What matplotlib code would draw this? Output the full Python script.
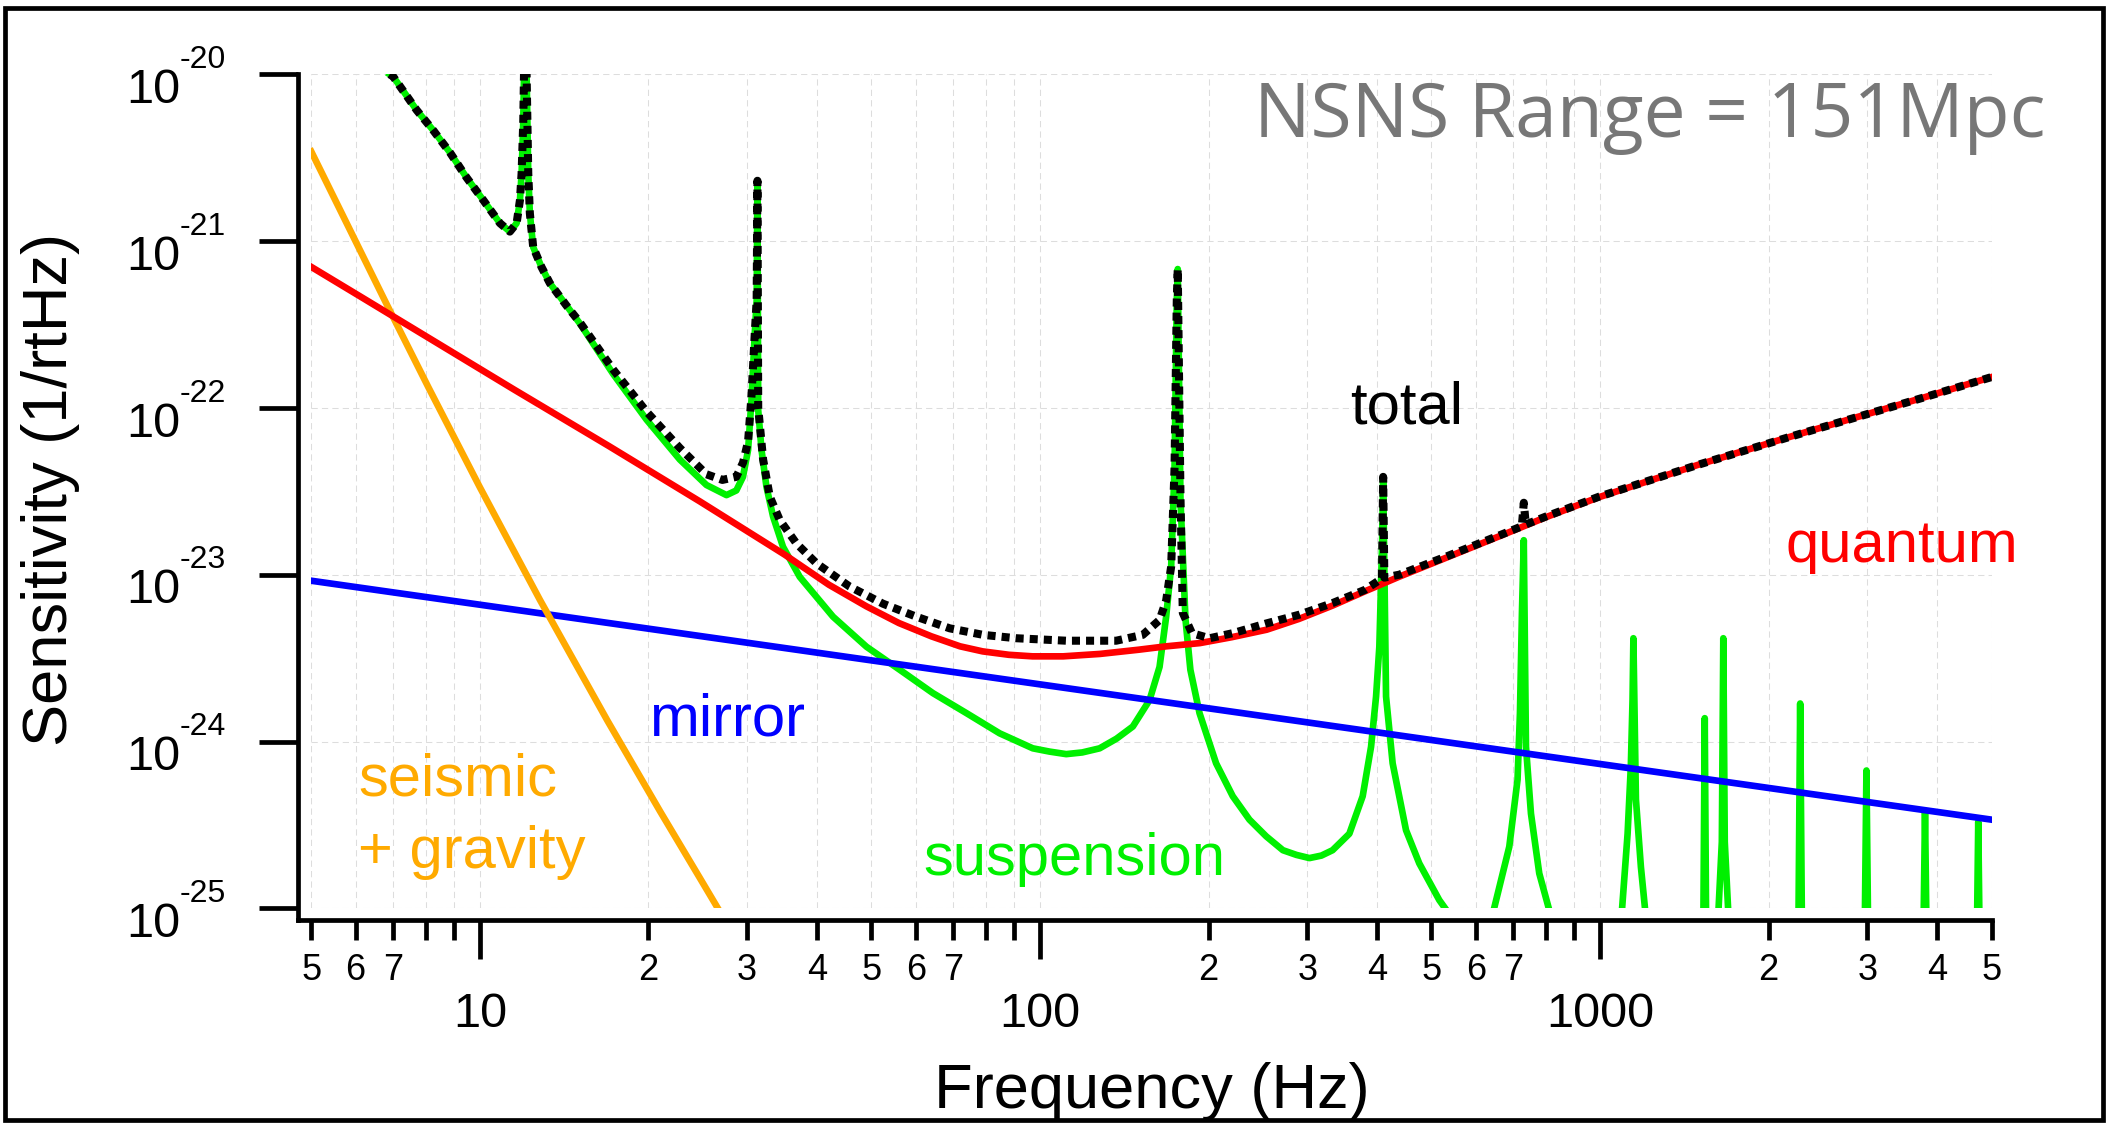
import numpy as np
import matplotlib
matplotlib.use("Agg")
import matplotlib.pyplot as plt
from matplotlib import transforms
from matplotlib.ticker import FixedLocator, FixedFormatter, NullLocator, NullFormatter
from matplotlib.patches import Rectangle

plt.rcParams["font.family"] = ["Liberation Sans", "DejaVu Sans"]

nan = np.nan

# noise curves (frequency in Hz, strain in 1/rtHz)
seismic_f = [5, 6.8, 8.1, 10, 12.8, 16.9, 21.0, 24.7, 26.6]
seismic_v = [3.44e-21, 4.25e-22, 1.32e-22, 3.34e-23, 7.06e-24, 1.33e-24,
             3.79e-25, 1.52e-25, 1.0e-25]

mirror_f = [5, 5000]
mirror_v = [9.2e-24, 3.4e-25]

quantum_f = [5, 6.1, 11.5, 17, 24.7, 35, 42, 49, 56, 64, 72, 79, 88, 97, 110,
             128, 150, 168, 193, 220, 254, 290, 333, 380, 438, 530, 661, 800,
             997, 1500, 2200, 3770, 5000]
quantum_v = [7.0e-22, 4.68e-22, 1.29e-22, 5.9e-23, 2.75e-23, 1.32e-23, 8.7e-24,
             6.46e-24, 5.13e-24, 4.27e-24, 3.72e-24, 3.47e-24, 3.31e-24, 3.24e-24,
             3.24e-24, 3.35e-24, 3.55e-24, 3.72e-24, 3.89e-24, 4.22e-24, 4.68e-24,
             5.43e-24, 6.53e-24, 7.94e-24, 9.73e-24, 1.26e-23, 1.70e-23, 2.21e-23,
             2.92e-23, 4.57e-23, 6.76e-23, 1.15e-22, 1.53e-22]

susp_f = [6.9, 7.0, 7.71, 8.26, 8.84, 9.47, 10.14, 10.86, 11.31, 11.63, 11.79,
          11.87, 11.95, 12.05, 12.2, 12.28, 12.45, 12.88, 13.33, 14.28, 15.09,
          17.29, 19.84, 22.75, 25.38, 27.56, 28.7, 29.49, 30.12, 30.54, 30.96,
          31.2, 31.3, 31.4, 31.83, 32.48, 33.38, 34.77, 37.25, 42.71, 49.0, 56.2,
          64.4, 73.9, 84.7, 97.1, 104, 111.4, 119, 127.8, 137, 146.5, 156.9,
          163.5, 168.0, 171.5, 173.9, 175.5, 176.2, 178.2, 181.9, 185.6, 192.7,
          206.3, 220.9, 236.6, 253.5, 271.5, 287, 302.8, 318, 333, 356.8, 376.9,
          390.1, 398.2, 403.6, 408.1, 410, 414.9, 426.3, 450.4, 475.6, 516.4,
          529, nan,
          647, 688.6, 712.4, 719.5, 725.4, 730.9, 737.5, 752.8, 778.9, 810, nan,
          1095, 1120, 1135, 1143, 1147, 1159, 1183, 1203, nan,
          1530, 1538, 1546, nan,
          1628, 1650, 1660, 1670, 1693, nan,
          2262, 2277, 2292, nan,
          2972, 2990, 3008, nan,
          3785, 3804, 3823, nan,
          4715, 4735, 4755]
susp_v = [1.0e-20, 9.7e-21, 6.1e-21, 4.6e-21, 3.4e-21, 2.4e-21, 1.76e-21, 1.28e-21,
          1.14e-21, 1.28e-21, 1.76e-21, 2.55e-21, 5.1e-21, 3e-20, 2.55e-21,
          1.47e-21, 9.2e-22, 7.0e-22, 5.6e-22, 4.1e-22, 3.2e-22, 1.6e-22, 8.5e-23,
          4.9e-23, 3.45e-23, 3.0e-23, 3.2e-23, 3.86e-23, 5.6e-23, 1.11e-22,
          2.8e-22, 4.4e-22, 2.3e-21, 9.7e-23, 5.6e-23, 3.37e-23, 2.23e-23,
          1.47e-23, 9.7e-24, 5.6e-24, 3.7e-24, 2.69e-24, 1.95e-24, 1.48e-24,
          1.12e-24, 9.1e-25, 8.7e-25, 8.4e-25, 8.6e-25, 9.1e-25, 1.04e-24,
          1.23e-24, 1.77e-24, 2.8e-24, 5.6e-24, 1.12e-23, 4.4e-23, 4.4e-22,
          6.8e-22, 2.8e-23, 5.4e-24, 2.69e-24, 1.48e-24, 7.4e-25, 4.7e-25,
          3.4e-25, 2.7e-25, 2.23e-25, 2.09e-25, 2.0e-25, 2.07e-25, 2.23e-25,
          2.8e-25, 4.7e-25, 9.3e-25, 1.86e-24, 3.7e-24, 1.47e-23, 3.86e-23,
          1.86e-24, 7.4e-25, 2.94e-25, 1.86e-25, 1.12e-25, 1.0e-25, nan,
          1.0e-25, 2.34e-25, 5.9e-25, 1.48e-24, 5.9e-24, 1.61e-23, 9.3e-25,
          3.7e-25, 1.62e-25, 1.0e-25, nan,
          1e-25, 2.8e-25, 7.1e-25, 1.77e-24, 4.16e-24, 4.5e-25, 1.77e-25, 1e-25, nan,
          1e-25, 1.38e-24, 1e-25, nan,
          1e-25, 2.5e-25, 4.16e-24, 2.5e-25, 1e-25, nan,
          1e-25, 1.69e-24, 1e-25, nan,
          1e-25, 6.7e-25, 1e-25, nan,
          1e-25, 3.8e-25, 1e-25, nan,
          1e-25, 3.3e-25, 1e-25]

total_f = [6.9, 7.0, 7.71, 8.26, 8.84, 9.47, 10.14, 10.86, 11.31, 11.63, 11.79,
           11.87, 11.95, 12.05, 12.2, 12.28, 12.45, 12.88, 13.33, 14.28, 15.09,
           17.29, 19.84, 22.75, 25.38, 27.1, 28.7, 29.5, 30.12, 30.54, 30.96,
           31.2, 31.3, 31.4, 32.04, 32.93, 34.3, 36.74, 39.9, 45.7, 52.45, 60.15,
           69.0, 79.1, 90.7, 111.4, 136.8, 152.6, 163.5, 168.0, 171.5, 173.9,
           175.5, 176.2, 178.2, 179.9, 186.8, 200.8, 220.9, 253.5, 290, 333, 380,
           408, 410, 412, 438, 530, 661, 725, 731, 737, 800, 997, 1500, 2200,
           3770, 5000]
total_v = [1.0e-20, 9.7e-21, 6.1e-21, 4.6e-21, 3.4e-21, 2.4e-21, 1.76e-21, 1.28e-21,
           1.14e-21, 1.28e-21, 1.76e-21, 2.55e-21, 5.1e-21, 3e-20, 2.55e-21,
           1.47e-21, 9.2e-22, 7.0e-22, 5.6e-22, 4.1e-22, 3.25e-22, 1.7e-22,
           9.5e-23, 5.75e-23, 4.0e-23, 3.7e-23, 3.86e-23, 4.7e-23, 6.3e-23,
           1.17e-22, 2.8e-22, 4.4e-22, 2.3e-21, 1.0e-22, 4.9e-23, 2.94e-23,
           2.13e-23, 1.54e-23, 1.17e-23, 8.5e-24, 6.7e-24, 5.6e-24, 4.77e-24,
           4.36e-24, 4.16e-24, 4.02e-24, 4.02e-24, 4.36e-24, 5.35e-24, 7.0e-24,
           1.12e-23, 4.4e-23, 4.4e-22, 6.8e-22, 2.9e-23, 5.9e-24, 4.46e-24,
           4.16e-24, 4.46e-24, 5.1e-24, 5.75e-24, 6.76e-24, 8.1e-24, 9.5e-24,
           3.86e-23, 9.6e-24, 1.0e-23, 1.28e-23, 1.72e-23, 1.95e-23, 2.7e-23,
           2.0e-23, 2.23e-23, 2.94e-23, 4.57e-23, 6.76e-23, 1.15e-22, 1.53e-22]

# axes ticks
ytick_vals = [1e-25, 1e-24, 1e-23, 1e-22, 1e-21, 1e-20]
ytick_exps = ["-25", "-24", "-23", "-22", "-21", "-20"]
xmajor = [10, 100, 1000]
xmajor_labels = ["10", "100", "1000"]
xminor = [5, 6, 7, 8, 9, 20, 30, 40, 50, 60, 70, 80, 90,
          200, 300, 400, 500, 600, 700, 800, 900, 2000, 3000, 4000, 5000]
xminor_labels = ["5", "6", "7", "", "", "2", "3", "4", "5", "6", "7", "", "",
                 "2", "3", "4", "5", "6", "7", "", "", "2", "3", "4", "5"]

GREEN = "#00f000"
ORANGE = "#ffaa00"

W, H = 2108, 1124
fig = plt.figure(figsize=(W / 100, H / 100), dpi=100)
ax = fig.add_axes([311.3 / W, 1 - 908.3 / H, 1680.2 / W, 834.0 / H])
ax.set_xscale("log")
ax.set_yscale("log")
ax.set_xlim(5, 5000)
ax.set_ylim(1e-25, 1e-20)

ax.plot(susp_f, susp_v, color=GREEN, lw=4.8, zorder=3)
ax.plot(mirror_f, mirror_v, color="#0000ff", lw=4.8, zorder=4)
ax.plot(seismic_f, seismic_v, color=ORANGE, lw=4.8, zorder=5)
ax.plot(quantum_f, quantum_v, color="#ff0000", lw=4.8, zorder=6)
ax.plot(total_f, total_v, color="black", lw=5.8, dashes=(1.0, 0.75), zorder=7)

# Igor-like axes, standing off the plot area
for s in ("top", "right"):
    ax.spines[s].set_visible(False)
for s in ("left", "bottom"):
    ax.spines[s].set_linewidth(3.4)
ax.spines["left"].set_position(("outward", 9.8))
ax.spines["bottom"].set_position(("outward", 8.4))
ax.spines["left"].set_bounds(8.51e-26, 1e-20)
ax.spines["bottom"].set_bounds(4.727, 5000)

ax.yaxis.set_major_locator(FixedLocator(ytick_vals))
ax.yaxis.set_minor_locator(NullLocator())
ax.yaxis.set_major_formatter(NullFormatter())
ax.tick_params(axis="y", which="major", direction="out", length=27.9, width=3.4)

ax.xaxis.set_major_locator(FixedLocator(xmajor))
ax.xaxis.set_major_formatter(FixedFormatter(xmajor_labels))
ax.xaxis.set_minor_locator(FixedLocator(xminor))
ax.xaxis.set_minor_formatter(FixedFormatter(xminor_labels))
ax.tick_params(axis="x", which="major", direction="out", length=28, width=3.4,
               labelsize=35, pad=23.8)
ax.tick_params(axis="x", which="minor", direction="out", length=14.4, width=3.4,
               labelsize=26, pad=9.4)

ax.set_axisbelow(True)
ax.grid(True, which="both", axis="x", color="#dddddd", lw=0.75, ls=(0, (6, 4)))
ax.grid(True, which="major", axis="y", color="#dddddd", lw=0.75, ls=(0, (6, 4)))

# y tick labels as 10 with raised exponent
base = transforms.blended_transform_factory(ax.transAxes, ax.transData)
t_main = transforms.offset_copy(base, fig=fig, x=-94.5, y=-20.7, units="points")
t_exp = transforms.offset_copy(base, fig=fig, x=-94.5, y=4.5, units="points")
for v, e in zip(ytick_vals, ytick_exps):
    ax.text(0, v, "10", transform=t_main, ha="right", va="baseline", fontsize=35)
    ax.text(0, v, e, transform=t_exp, ha="left", va="baseline", fontsize=23)

# axis titles
fig.text(67 / W, 1 - 490 / H, "Sensitivity (1/rtHz)", rotation=90,
         rotation_mode="anchor", ha="center", va="baseline", fontsize=45.5)
fig.text(1152 / W, 1 - 1108 / H, "Frequency (Hz)", ha="center", va="baseline",
         fontsize=45.5)

# curve labels
def label(x, y, s, c):
    fig.text(x / W, 1 - y / H, s, color=c, ha="left", va="baseline", fontsize=43)

label(1350, 423, "total", "black")
label(1785, 562, "quantum", "#ff0000")
label(649, 735, "mirror", "#0000ff")
label(923, 875, "suspension", GREEN)
label(358, 795, "seismic", ORANGE)
label(358, 868, "+ gravity", ORANGE)

fig.text(1254 / W, 1 - 137 / H, "NSNS Range = 151Mpc", color="#777777",
         family=["Open Sans", "DejaVu Sans"], ha="left", va="baseline", fontsize=54)

# outer frame
fig.add_artist(Rectangle((5 / W, 1 - 1120 / H), 2098 / W, 1112 / H,
                         transform=fig.transFigure, fill=False, lw=3.4,
                         edgecolor="black"))

fig.savefig("out.png", dpi=100)
